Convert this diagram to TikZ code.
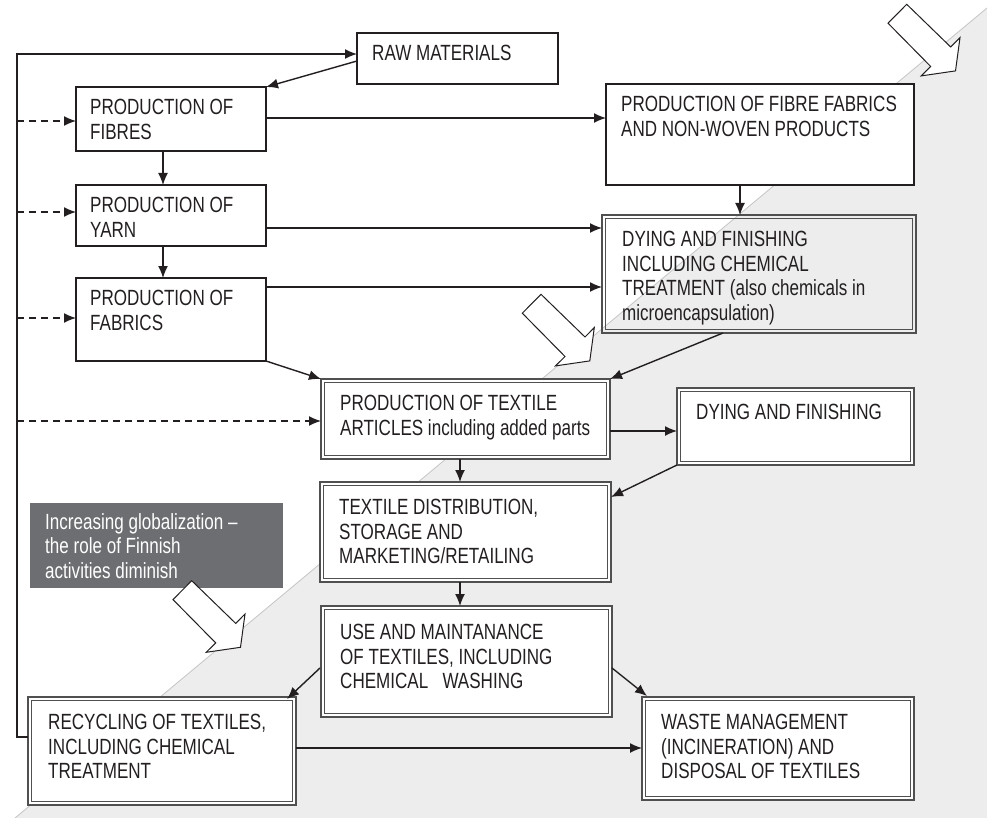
\documentclass[tikz,border=0pt]{standalone}
\usepackage{fontspec}
\setmainfont{Liberation Sans}[FakeStretch=0.775]
\usetikzlibrary{arrows.meta,calc}
\definecolor{ink}{HTML}{231F20}
\definecolor{zone}{HTML}{EDEDED}
\definecolor{diag}{HTML}{C4C4C4}
\definecolor{dbl}{HTML}{505050}
\definecolor{lbl}{HTML}{6D6E71}
\tikzset{
 sbx/.style={draw=ink, line width=1.2pt, fill=white, inner sep=0pt, outer sep=0pt, anchor=north west},
 dbx/.style={draw=dbl, line width=1.3pt, fill=white, inner sep=0pt, outer sep=0pt, anchor=north west},
 dbxo/.style={draw=dbl, line width=1.3pt, inner sep=0pt, outer sep=0pt, anchor=north west},
 txt/.style={inner sep=0pt, anchor=north west, align=left, text=ink, font=\fontsize{22}{24.5}\selectfont},
 arr/.style={draw=ink, line width=1.4pt, -{Latex[length=12pt,width=10pt]}},
 darr/.style={arr, dash pattern=on 7pt off 5pt},
 blk/.style={draw=ink, line width=1pt, fill=white, line join=miter},
}
\newcommand{\mkbox}[6]{\node[#6, minimum width={#4-#2}, minimum height={#5-#3}] (#1) at (#2,#3) {};}
\newcommand{\innerline}[1]{\draw[draw=dbl, line width=1.3pt] ([shift={(3.5,3.5)}]#1.north west) rectangle ([shift={(-3.5,-3.5)}]#1.south east);}
\newcommand{\blockarrow}[2]{\draw[blk] (#1,#2) -- ++(44,42.7) -- ++(9.3,-9.4) -- ++(-4.5,33.3) -- ++(-34.3,5) -- ++(9.5,-9.4) -- ++(-42.7,-43.3) -- cycle;}
\begin{document}
\begin{tikzpicture}[x=1pt,y=-1pt]
\useasboundingbox (0,0) rectangle (987,818);
% grey zone
\fill[zone] (15,818) -- (987,8) -- (987,818) -- cycle;
\draw[diag, line width=0.8pt] (15,818) -- (987,8);

% boxes
\mkbox{raw}{357}{33}{558}{84}{sbx}
\mkbox{fib}{76}{87}{266}{151}{sbx}
\mkbox{yarn}{76}{185}{266}{246}{sbx}
\mkbox{fab}{76}{278}{266}{361}{sbx}
\mkbox{ff}{606}{84}{914}{185}{sbx}
\mkbox{dye}{602}{215}{916}{333}{dbxo}\innerline{dye}
\mkbox{tex}{321}{379}{610}{459}{dbx}\innerline{tex}
\mkbox{dyetwo}{677}{388}{914}{465}{dbx}\innerline{dyetwo}
\mkbox{dist}{320}{482}{611}{582}{dbx}\innerline{dist}
\mkbox{use}{321}{606}{612}{717}{dbx}\innerline{use}
\mkbox{rec}{28}{697}{296}{805}{dbx}\innerline{rec}
\mkbox{waste}{642}{697}{914}{800}{dbx}\innerline{waste}

% texts
\node[txt] (raw-t) at (372,45) {RAW MATERIALS};
\node[txt] (fib-t) at (90,99) {PRODUCTION OF\\FIBRES};
\node[txt] (yarn-t) at (90,197) {PRODUCTION OF\\YARN};
\node[txt] (fab-t) at (90,290) {PRODUCTION OF\\FABRICS};
\node[txt] (ff-t) at (621,96) {PRODUCTION OF FIBRE FABRICS\\AND NON-WOVEN PRODUCTS};
\node[txt] (dye-t) at (622,231) {DYING AND FINISHING\\INCLUDING CHEMICAL\\TREATMENT (also chemicals in\\microencapsulation)};
\node[txt] (tex-t) at (340,395) {PRODUCTION OF TEXTILE\\ARTICLES including added parts};
\node[txt] (dyetwo-t) at (696,404) {DYING AND FINISHING};
\node[txt] (dist-t) at (339,499) {TEXTILE DISTRIBUTION,\\STORAGE AND\\MARKETING/RETAILING};
\node[txt] (use-t) at (340,624) {USE AND MAINTANANCE\\OF TEXTILES, INCLUDING\\CHEMICAL~~~WASHING};
\node[txt] (rec-t) at (48,714) {RECYCLING OF TEXTILES,\\INCLUDING CHEMICAL\\TREATMENT};
\node[txt] (waste-t) at (661,714) {WASTE MANAGEMENT\\(INCINERATION) AND\\DISPOSAL OF TEXTILES};

% label
\node[fill=lbl, inner sep=0pt, anchor=north west, minimum width=253, minimum height=85] (glob) at (30,503) {};
\node[txt, text=white] (glob-t) at (45,513) {Increasing globalization --\\the role of Finnish\\activities diminish};

% helper coordinates
\coordinate (lpb) at (17,737);
\coordinate (lpt) at (17,54);
\coordinate (d1) at (17,121);
\coordinate (d2) at (17,212);
\coordinate (d3) at (17,318);
\coordinate (d4) at (17,421);
\coordinate (cx) at (163,0);
\coordinate (h1) at (0,118);
\coordinate (h2) at (0,228);
\coordinate (h3) at (0,287);
\coordinate (h4) at (0,431);
\coordinate (h5) at (0,748);
\coordinate (v1) at (740,0);
\coordinate (v2) at (460,0);

% connectors
\draw[arr] (rec.west |- lpb) -- (lpb) -- (lpt) -- (raw.west |- lpt);
\draw[arr] ($(raw.north west)+(0,28)$) -- (fib.north east);
\draw[darr] (d1) -- (d1 -| fib.west);
\draw[darr] (d2) -- (d2 -| yarn.west);
\draw[darr] (d3) -- (d3 -| fab.west);
\draw[darr] (d4) -- (d4 -| tex.west);
\draw[arr] (fib.south -| cx) -- (yarn.north -| cx);
\draw[arr] (yarn.south -| cx) -- (fab.north -| cx);
\draw[arr] (fib.east |- h1) -- (ff.west |- h1);
\draw[arr] (ff.south -| v1) -- (dye.north -| v1);
\draw[arr] (yarn.east |- h2) -- (dye.west |- h2);
\draw[arr] (fab.east |- h3) -- (dye.west |- h3);
\draw[arr] (fab.south east) -- (tex.north west);
\draw[arr] ($(dye.south west)+(121,0)$) -- (tex.north east);
\draw[arr] (tex.east |- h4) -- (dyetwo.west |- h4);
\draw[arr] (tex.south -| v2) -- (dist.north -| v2);
\draw[arr] (dyetwo.south west) -- ($(dist.north east)+(0,15)$);
\draw[arr] (dist.south -| v2) -- (use.north -| v2);
\draw[arr] ($(use.north west)+(-1,62)$) -- ($(rec.north east)+(-9,2)$);
\draw[arr] ($(use.north east)+(0,62)$) -- ($(waste.north west)+(5,-1)$);
\draw[arr] (rec.east |- h5) -- (waste.west |- h5);

% block arrows
\blockarrow{906.7}{4.3}
\blockarrow{541}{294.3}
\blockarrow{191.7}{580.7}
\end{tikzpicture}
\end{document}
